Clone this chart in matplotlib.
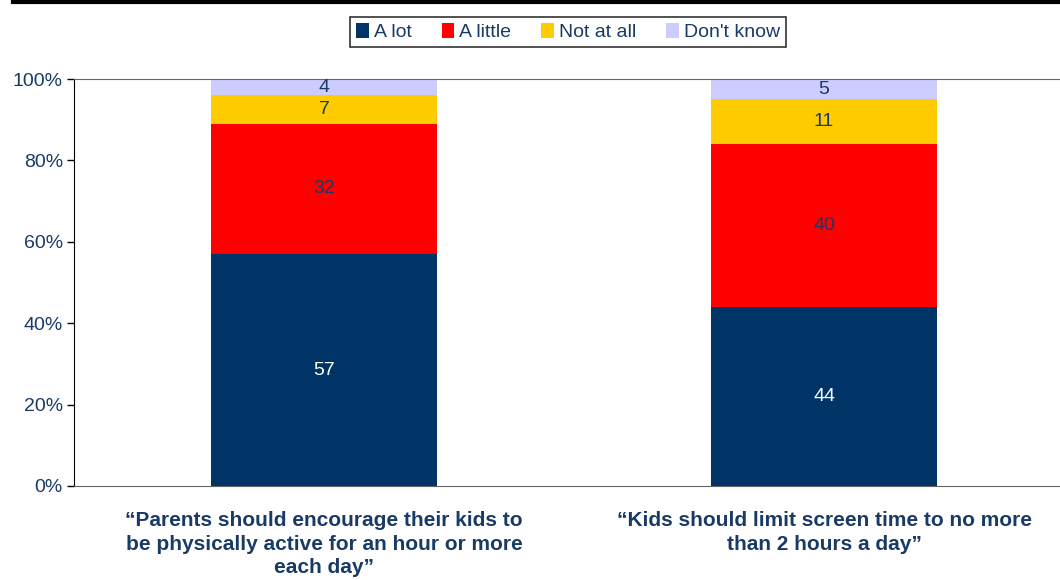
import matplotlib.pyplot as plt
from matplotlib.lines import Line2D

plt.rcParams['font.family'] = ['Liberation Sans', 'DejaVu Sans']

categories = ['\u201cParents should encourage their kids to\nbe physically active for an hour or more\neach day\u201d',
              '\u201cKids should limit screen time to no more\nthan 2 hours a day\u201d']
series = ['A lot', 'A little', 'Not at all', "Don't know"]
a_lot = [57, 44]
a_little = [32, 40]
not_at_all = [7, 11]
dont_know = [4, 5]

colors = ['#003366', '#FF0000', '#FFCC00', '#CCCCFF']
navy = '#1A3A66'

fig = plt.figure(figsize=(10.6, 5.8), dpi=100)
ax = fig.add_axes([74 / 1060, 1 - 486 / 580, 1000 / 1060, 407 / 580])

x = [0, 1]
bottom = [0, 0]
for name, vals, col in zip(series, [a_lot, a_little, not_at_all, dont_know], colors):
    ax.bar(x, vals, width=0.452, bottom=bottom, color=col, label=name)
    for xi, v, b in zip(x, vals, bottom):
        tc = 'white' if col == '#003366' else navy
        ax.text(xi, b + v / 2, str(v), ha='center', va='center', fontsize=14, color=tc)
    bottom = [b + v for b, v in zip(bottom, vals)]

ax.set_xlim(-0.5, 1.5)
ax.set_ylim(0, 100)
ax.set_yticks([0, 20, 40, 60, 80, 100])
ax.set_yticklabels(['0%', '20%', '40%', '60%', '80%', '100%'])
ax.tick_params(axis='y', labelsize=14, labelcolor=navy, direction='out', length=5, width=1, pad=3)
ax.set_xticks(x)
ax.set_xticklabels(categories, fontsize=15, fontweight='bold', color=navy, linespacing=1.3)
ax.tick_params(axis='x', length=0, pad=18)

ax.spines['left'].set_color('black')
ax.spines['top'].set_color('#666666')
ax.spines['bottom'].set_color('#666666')
ax.spines['right'].set_visible(False)

leg = fig.legend(loc='upper center', bbox_to_anchor=(0.536, 0.988), ncol=4, fontsize=14,
                 frameon=True, fancybox=False, edgecolor='black', handlelength=0.65,
                 handleheight=0.85, handletextpad=0.25, columnspacing=1.55, borderpad=0.3)
leg.get_frame().set_linewidth(1.2)
for t in leg.get_texts():
    t.set_color(navy)

fig.add_artist(Line2D([0.012, 1.0], [0.996, 0.996], color='black', lw=3, transform=fig.transFigure))

fig.savefig('out.png', dpi=100)
